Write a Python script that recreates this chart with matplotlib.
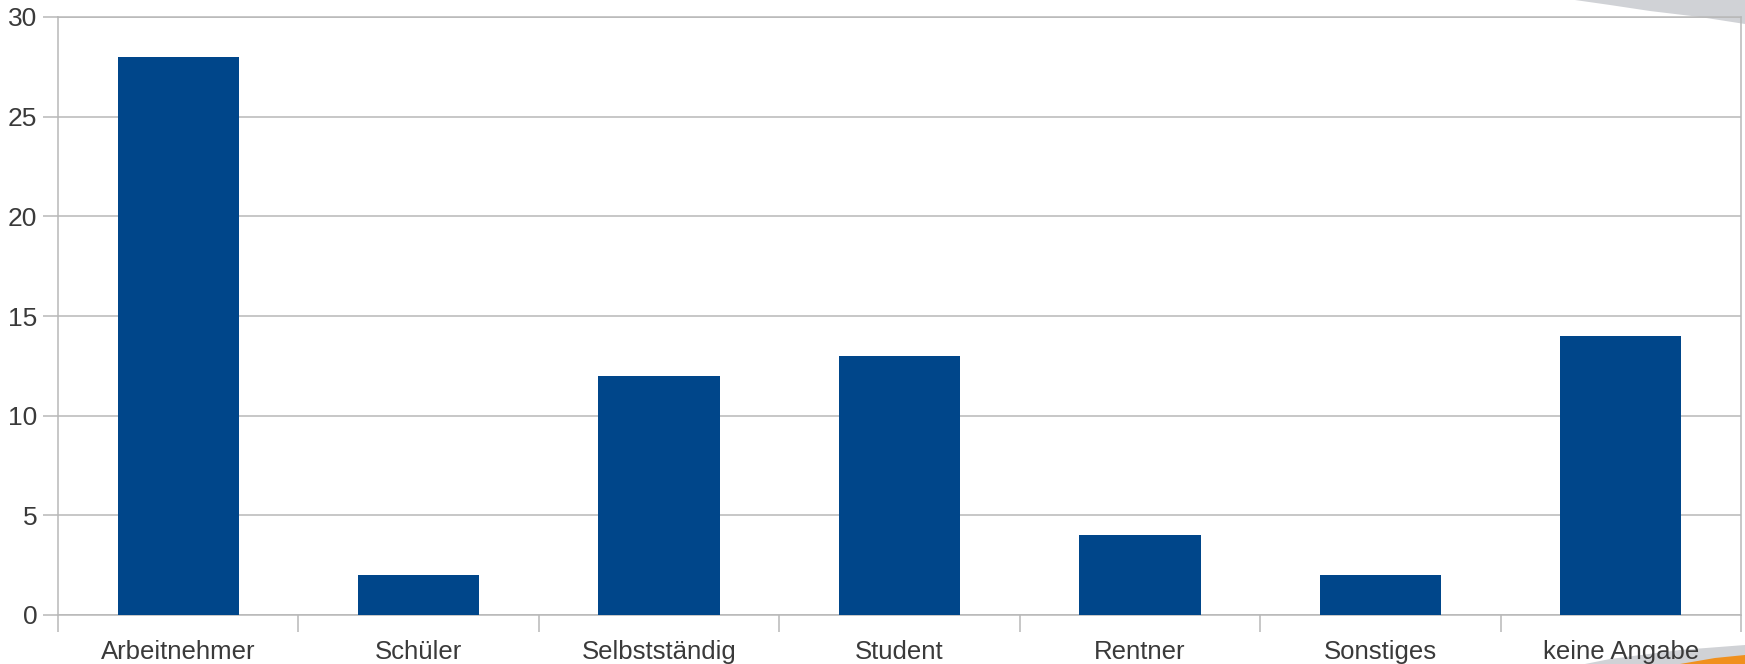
import matplotlib
matplotlib.use("Agg")
from matplotlib import pyplot as plt
from matplotlib.patches import Polygon
import numpy as np

categories = ["Arbeitnehmer", "Schüler", "Selbstständig", "Student", "Rentner", "Sonstiges", "keine Angabe"]
counts = [28, 2, 12, 13, 4, 2, 14]
y_ticks = [0, 5, 10, 15, 20, 25, 30]

W, H = 1745, 664
bar_color = "#00468a"
grid_color = "#b8b8b8"
text_color = "#3a3a3a"

plt.rcParams["font.family"] = ["Liberation Sans", "DejaVu Sans"]

fig = plt.figure(figsize=(W / 100, H / 100), dpi=100)
fig.patch.set_facecolor("white")

# decorative swooshes (slide template remnants), drawn behind the chart
def fig_poly(pts, color):
    pts = [(x / W, 1 - y / H) for x, y in pts]
    fig.patches.append(Polygon(pts, closed=True, transform=fig.transFigure,
                               facecolor=color, edgecolor="none", zorder=0))

fig_poly([(1575, 0), (1745, 0), (1745, 24), (1700, 17), (1650, 11), (1610, 5)], "#d0d2d6")
fig_poly([(1585, 664), (1610, 659), (1680, 650), (1745, 645), (1745, 664)], "#d0d2d6")
fig_poly([(1680, 664), (1715, 658), (1745, 655), (1745, 664)], "#f0901e")

ax = fig.add_axes([58 / W, 1 - 615 / H, (1741 - 58) / W, (615 - 17) / H])
ax.set_facecolor("none")
ax.set_zorder(2)

x = np.arange(len(categories))
ax.bar(x, counts, width=0.505, color=bar_color, zorder=3)

ax.set_xlim(-0.5, len(categories) - 0.5)
ax.set_ylim(0, 30)
ax.set_yticks(y_ticks)
ax.set_yticklabels([str(v) for v in y_ticks])
ax.yaxis.grid(True, color=grid_color, linewidth=1.1, zorder=0)

ax.set_xticks(x)
ax.set_xticklabels(categories)
ax.set_xticks(np.arange(len(categories) + 1) - 0.5, minor=True)

ax.tick_params(axis="y", length=11, width=1.1, color=grid_color, labelsize=19,
               labelcolor=text_color, pad=4)
ax.tick_params(axis="x", which="major", length=0, labelsize=18.5,
               labelcolor=text_color, pad=18)
ax.tick_params(axis="x", which="minor", length=12, width=1.1, color=grid_color)

for s in ax.spines.values():
    s.set_color(grid_color)
    s.set_linewidth(1.1)

fig.savefig("out.png", dpi=100, facecolor="white")
